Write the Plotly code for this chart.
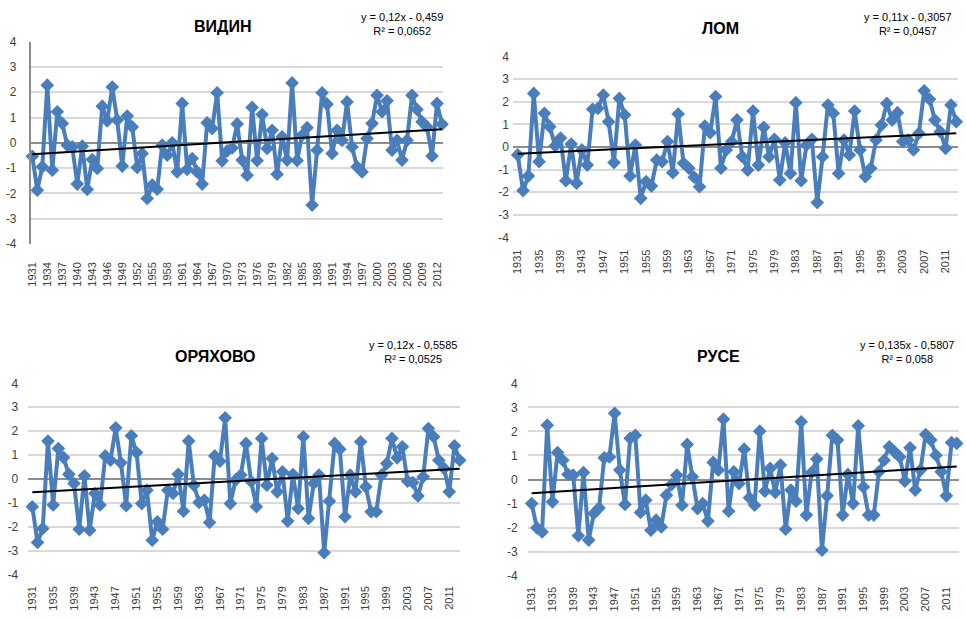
import plotly.graph_objects as go

years = list(range(1931, 2014))

vidin = [-0.53, -1.87, -0.95, 2.28, -1.08, 1.23, 0.77, -0.09, -0.16, -1.63,
         -0.13, -1.84, -0.66, -1.01, 1.45, 0.87, 2.21, 0.90, -0.92, 1.06,
         0.63, -0.97, -0.42, -2.20, -1.67, -1.83, -0.09, -0.49, 0.00, -1.15,
         1.56, -1.05, -0.62, -1.15, -1.63, 0.79, 0.57, 1.98, -0.71, -0.32,
         -0.20, 0.75, -0.68, -1.28, 1.40, -0.70, 1.12, -0.22, 0.50, -1.24,
         0.24, -0.68, 2.37, -0.70, 0.30, 0.60, -2.46, -0.29, 1.98, 1.53,
         -0.42, 0.50, 0.10, 1.62, -0.16, -0.95, -1.15, 0.17, 0.77, 1.88,
         1.23, 1.66, -0.29, 0.10, -0.68, 0.10, 1.88, 1.32, 0.83, 0.63,
         -0.52, 1.56, 0.74]

lom = [-0.35, -1.93, -1.28, 2.37, -0.65, 1.49, 0.90, 0.05, 0.40, -1.49,
       0.13, -1.60, -0.13, -0.80, 1.67, 1.71, 2.30, 1.12, -0.69, 2.15,
       1.42, -1.28, 0.09, -2.27, -1.53, -1.73, -0.58, -0.65, 0.24, -1.14,
       1.46, -0.72, -0.94, -1.34, -1.76, 0.93, 0.63, 2.23, -0.94, -0.13,
       0.24, 1.20, -0.43, -1.02, 1.59, -0.80, 0.87, -0.43, 0.34, -1.46,
       0.19, -1.17, 1.96, -1.49, 0.09, 0.34, -2.46, -0.43, 1.86, 1.49,
       -1.17, 0.31, -0.35, 1.59, -0.13, -1.31, -0.94, 0.31, 0.97, 1.93,
       1.19, 1.52, 0.24, 0.31, -0.13, 0.60, 2.49, 2.11, 1.19, 0.68,
       -0.06, 1.86, 1.12]

oryahovo = [-1.15, -2.64, -2.06, 1.59, -1.08, 1.28, 0.90, 0.20, -0.18, -2.09,
            0.14, -2.13, -0.60, -1.08, 0.97, 0.79, 2.14, 0.68, -1.11, 1.81,
            1.11, -1.02, -0.46, -2.55, -1.78, -2.09, -0.46, -0.60, 0.20, -1.34,
            1.59, -0.25, -0.97, -0.88, -1.81, 0.97, 0.75, 2.56, -1.02, -0.04,
            0.17, 1.49, -0.10, -1.15, 1.70, -0.25, 0.86, -0.53, 0.31, -1.75,
            0.19, -1.22, 1.77, -1.64, -0.18, 0.17, -3.07, -0.92, 1.49, 1.25,
            -1.57, 0.17, -0.53, 1.56, -0.32, -1.36, -1.36, 0.17, 0.65, 1.70,
            0.89, 1.35, -0.08, -0.14, -0.70, 0.10, 2.11, 1.77, 0.79, 0.45,
            -0.53, 1.39, 0.79]

ruse = [-1.00, -2.01, -2.18, 2.26, -0.93, 1.12, 0.80, 0.21, 0.18, -2.34,
        0.29, -2.52, -1.41, -1.18, 0.90, 0.94, 2.75, 0.39, -1.04, 1.71,
        1.84, -1.37, -0.86, -2.11, -1.69, -1.97, -0.65, -0.21, 0.18, -1.07,
        1.46, 0.11, -1.21, -1.00, -1.73, 0.71, 0.39, 2.51, -1.32, 0.32,
        -0.17, 1.26, -0.76, -1.07, 2.01, -0.49, 0.46, -0.54, 0.60, -2.07,
        -0.44, -0.90, 2.40, -1.48, 0.29, 0.85, -2.94, -0.68, 1.84, 1.64,
        -1.48, 0.21, -1.00, 2.23, -0.31, -1.48, -1.48, 0.32, 0.80, 1.36,
        1.15, 0.94, -0.07, 1.32, -0.44, 0.39, 1.87, 1.64, 1.01, 0.32,
        -0.68, 1.54, 1.50]

station_names = ["ВИДИН", "ЛОМ", "ОРЯХОВО", "РУСЕ"]
trend_slopes = [0.12, 0.11, 0.12, 0.135]          # per decade (as printed)
trend_intercepts = [-0.459, -0.3057, -0.5585, -0.5807]
trend_labels = ["y = 0,12x - 0,459<br>R² = 0,0652",
                "y = 0,11x - 0,3057<br>R² = 0,0457",
                "y = 0,12x - 0,5585<br>R² = 0,0525",
                "y = 0,135x - 0,5807<br>R² = 0,058"]

ticks_3 = list(range(1931, 2014, 3))
ticks_4 = list(range(1931, 2014, 4))
ytick_vals = [4, 3, 2, 1, 0, -1, -2, -3, -4]

series = [vidin, lom, oryahovo, ruse]

W, H = 966, 619
panels = [
    dict(xd=[30.7/W, 443/W], yd=[1-244/H, 1-41.7/H], xr=[1930.68, 2013.2], ticks=ticks_3,
         axisline=True, title=(222.5, 27), eq=(402, 24), ystand=10, xstand=15),
    dict(xd=[513/W, 958/W], yd=[1-237.4/H, 1-56.6/H], xr=[1930.12, 2013.32], ticks=ticks_4,
         axisline=False, title=(720, 28), eq=(908, 24), ystand=3, xstand=9),
    dict(xd=[28.3/W, 460/W], yd=[1-575/H, 1-383.3/H], xr=[1930.23, 2013.06], ticks=ticks_4,
         axisline=False, title=(215, 356), eq=(413, 352), ystand=9, xstand=8),
    dict(xd=[527.7/W, 959.3/W], yd=[1-575.7/H, 1-383.3/H], xr=[1930.23, 2013.5], ticks=ticks_4,
         axisline=False, title=(718, 356), eq=(907, 352), ystand=9, xstand=8),
]

BLUE = "#4a7ebb"
FONT = "Liberation Sans"
fig = go.Figure()
layout = dict(width=W, height=H, autosize=False, margin=dict(l=0, r=0, t=0, b=0, pad=0),
              paper_bgcolor="white", plot_bgcolor="white", showlegend=False,
              font=dict(family=FONT, size=11, color="#404040"))
annotations = []

for i, (vals, p) in enumerate(zip(series, panels)):
    n = i + 1
    xa = "x" if n == 1 else f"x{n}"
    ya = "y" if n == 1 else f"y{n}"
    fig.add_trace(go.Scatter(
        x=years, y=vals, xaxis=xa, yaxis=ya, mode="lines+markers",
        line=dict(color=BLUE, width=4),
        marker=dict(symbol="diamond", size=10.5, color=BLUE),
        cliponaxis=False, hoverinfo="skip"))
    idx = [1, len(years)]
    tx = [years[0], years[-1]]
    ty = [trend_intercepts[i] + trend_slopes[i] * k / 10 for k in idx]
    fig.add_trace(go.Scatter(
        x=tx, y=ty, xaxis=xa, yaxis=ya, mode="lines",
        line=dict(color="black", width=2), cliponaxis=False, hoverinfo="skip"))

    layout[f"xaxis{'' if n == 1 else n}"] = dict(
        domain=p["xd"], range=p["xr"], anchor=ya, tickmode="array",
        tickvals=p["ticks"], ticktext=[str(t) for t in p["ticks"]],
        tickangle=-90, showgrid=False, zeroline=False, showline=False,
        ticks="", ticklabelstandoff=p["xstand"], automargin=False,
        tickfont=dict(family=FONT, size=11, color="#404040"))
    layout[f"yaxis{'' if n == 1 else n}"] = dict(
        domain=p["yd"], range=[-4, 4], anchor=xa, tickmode="array",
        tickvals=ytick_vals, ticktext=[str(v) for v in ytick_vals],
        showgrid=True, gridcolor="#d9d9d9", gridwidth=1.5,
        zeroline=True, zerolinecolor="#8c8c8c", zerolinewidth=1.5,
        showline=p["axisline"], linecolor="#8c8c8c", linewidth=1.5,
        ticks="", ticklabelstandoff=p["ystand"], automargin=False,
        tickfont=dict(family=FONT, size=12, color="#404040"))

    tx0, ty0 = p["title"]
    annotations.append(dict(
        x=tx0/W, y=1-ty0/H, xref="paper", yref="paper", text=f"<b>{station_names[i]}</b>",
        showarrow=False, xanchor="center", yanchor="middle",
        font=dict(family=FONT, size=16, color="black")))
    ex, ey = p["eq"]
    annotations.append(dict(
        x=ex/W, y=1-ey/H, xref="paper", yref="paper", text=trend_labels[i],
        showarrow=False, xanchor="center", yanchor="middle", align="center",
        font=dict(family=FONT, size=11, color="black")))

layout["annotations"] = annotations
fig.update_layout(**layout)
fig.write_html("out.html", config={"displayModeBar": False, "responsive": False})

css = ("<style>html,body{margin:0!important;padding:0!important;width:966px;height:619px;"
       "overflow:hidden;background:#fff;}"
       ".plotly-graph-div{position:fixed!important;top:0;left:0;}</style>")
with open("out.html", "r", encoding="utf-8") as f:
    html = f.read()
html = html.replace("<head>", "<head>" + css, 1)
with open("out.html", "w", encoding="utf-8") as f:
    f.write(html)
